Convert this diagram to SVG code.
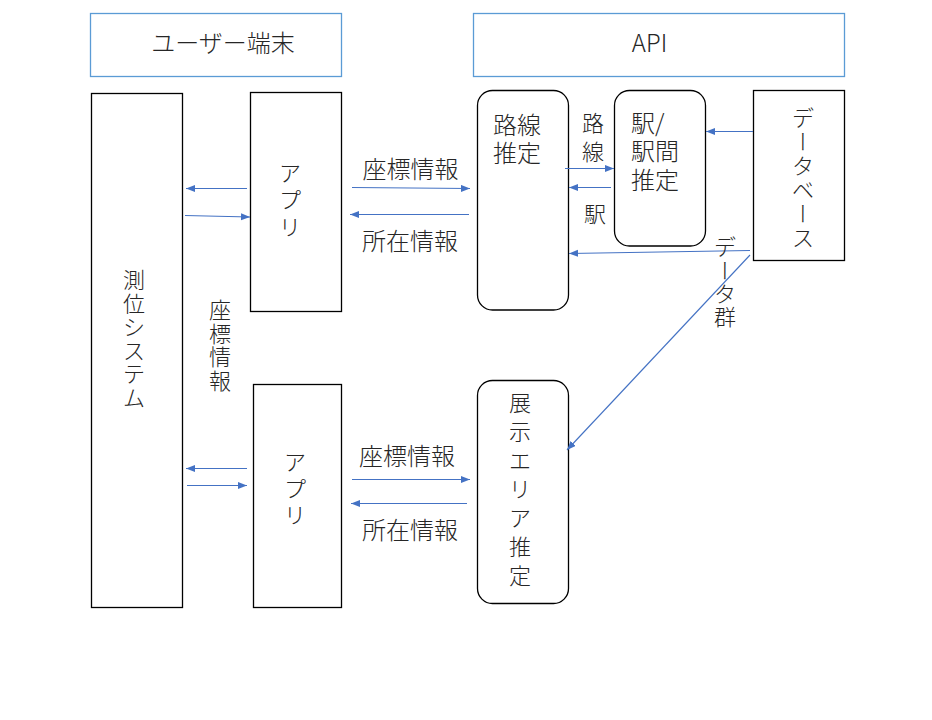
<svg xmlns="http://www.w3.org/2000/svg" width="932" height="720" viewBox="0 0 932 720">
<style>
text{font-family:"Noto Sans CJK JP","Noto Sans",sans-serif;fill:#262626;font-weight:300;}
.h{font-size:24px;}
.v{font-size:22px;text-anchor:middle;}
.vm{font-size:22px;writing-mode:vertical-rl;}
.c{text-anchor:middle;}
.hdr{fill:#fff;stroke:#5B9BD5;stroke-width:1.3;}
.box{fill:#fff;stroke:#000;stroke-width:1.3;}
.ar{stroke:#4472C4;stroke-width:1.1;fill:none;marker-end:url(#ah);}
</style>
<defs>
<marker id="ah" markerUnits="userSpaceOnUse" markerWidth="10" markerHeight="8" refX="9" refY="3.5" orient="auto">
<path d="M0,0 L9,3.5 L0,7 z" fill="#4472C4"/>
</marker>
</defs>
<rect width="932" height="720" fill="#fff"/>
<g id="diagram" opacity="0.995">
<g id="hdr-user"><rect class="hdr" x="90.5" y="13.5" width="251" height="63"/><text class="h c" x="223" y="51.5">ユーザー端末</text></g>
<g id="hdr-api"><rect class="hdr" x="473.5" y="13.5" width="371" height="63"/><text class="h c" x="649.5" y="51.5">API</text></g>
<g id="positioning"><rect class="box" x="91.5" y="93.5" width="91" height="514"/>
<text class="v"><tspan x="134" y="288">測</tspan><tspan x="134" y="311.6">位</tspan><tspan x="134" y="335.2">シ</tspan><tspan x="134" y="358.8">ス</tspan><tspan x="134" y="382.4">テ</tspan><tspan x="134" y="406">ム</tspan></text></g>
<g id="app1"><rect class="box" x="250.5" y="92.5" width="91" height="219"/>
<text class="v"><tspan x="290" y="181">ア</tspan><tspan x="290" y="208">プ</tspan><tspan x="290" y="235">リ</tspan></text></g>
<g id="app2"><rect class="box" x="253.5" y="384.5" width="88" height="223"/>
<text class="v"><tspan x="295" y="470">ア</tspan><tspan x="295" y="496.5">プ</tspan><tspan x="295" y="523">リ</tspan></text></g>
<g id="route"><rect class="box" x="477.5" y="90.5" width="91" height="219.5" rx="15"/>
<text class="h"><tspan x="493" y="133.5">路線</tspan><tspan x="493" y="161.5">推定</tspan></text></g>
<g id="station"><rect class="box" x="614.5" y="90.5" width="91" height="155.5" rx="15"/>
<text class="h"><tspan x="631" y="131.5">駅/</tspan><tspan x="631" y="159.5">駅間</tspan><tspan x="631" y="188.5">推定</tspan></text></g>
<g id="database"><rect class="box" x="753.5" y="90.5" width="91" height="170"/>
<text class="v"><tspan x="803" y="126">デ</tspan><tspan x="803" y="174">タ</tspan><tspan x="803" y="198">ベ</tspan><tspan x="803" y="246">ス</tspan></text>
<text class="vm" x="803" y="131">ー</text><text class="vm" x="803" y="203">ー</text></g>
<g id="area"><rect class="box" x="477.5" y="380.5" width="91" height="223" rx="15"/>
<text class="v"><tspan x="520" y="411">展</tspan><tspan x="520" y="439.8">示</tspan><tspan x="520" y="468.6">エ</tspan><tspan x="520" y="497.4">リ</tspan><tspan x="520" y="526.2">ア</tspan><tspan x="520" y="555">推</tspan><tspan x="520" y="583.8">定</tspan></text></g>
<g id="connectors">
<line class="ar" x1="247" y1="188.5" x2="186" y2="188.5"/>
<line class="ar" x1="185" y1="215.5" x2="250" y2="217"/>
<line class="ar" x1="352" y1="187.5" x2="470" y2="188.5"/>
<line class="ar" x1="469" y1="214.5" x2="350" y2="214.5"/>
<line class="ar" x1="565" y1="168.5" x2="614" y2="168.5"/>
<line class="ar" x1="611" y1="187.5" x2="569" y2="187.5"/>
<line class="ar" x1="753" y1="131.5" x2="706" y2="131.5"/>
<line class="ar" x1="750" y1="250.5" x2="569" y2="253.5"/>
<line class="ar" x1="750" y1="255" x2="567" y2="450"/>
<line class="ar" x1="247" y1="468.5" x2="186" y2="468.5"/>
<line class="ar" x1="187" y1="485.5" x2="247" y2="485.5"/>
<line class="ar" x1="352" y1="479.5" x2="470" y2="479.5"/>
<line class="ar" x1="467" y1="503.5" x2="351" y2="503.5"/>
</g>
<g id="labels">
<text class="h c" x="410.5" y="177.5">座標情報</text>
<text class="h c" x="410" y="250">所在情報</text>
<text class="h c" x="407" y="465">座標情報</text>
<text class="h c" x="410" y="539">所在情報</text>
<text class="v"><tspan x="220" y="318">座</tspan><tspan x="220" y="341.5">標</tspan><tspan x="220" y="365">情</tspan><tspan x="220" y="388.5">報</tspan></text>
<text class="v"><tspan x="593" y="131">路</tspan><tspan x="593" y="160">線</tspan></text>
<text class="v" x="595" y="222">駅</text>
<text class="v"><tspan x="725" y="255">デ</tspan><tspan x="725" y="301.7">タ</tspan><tspan x="725" y="325">群</tspan></text>
<text class="vm" x="725" y="259.3">ー</text>
</g>
</g>
</svg>
